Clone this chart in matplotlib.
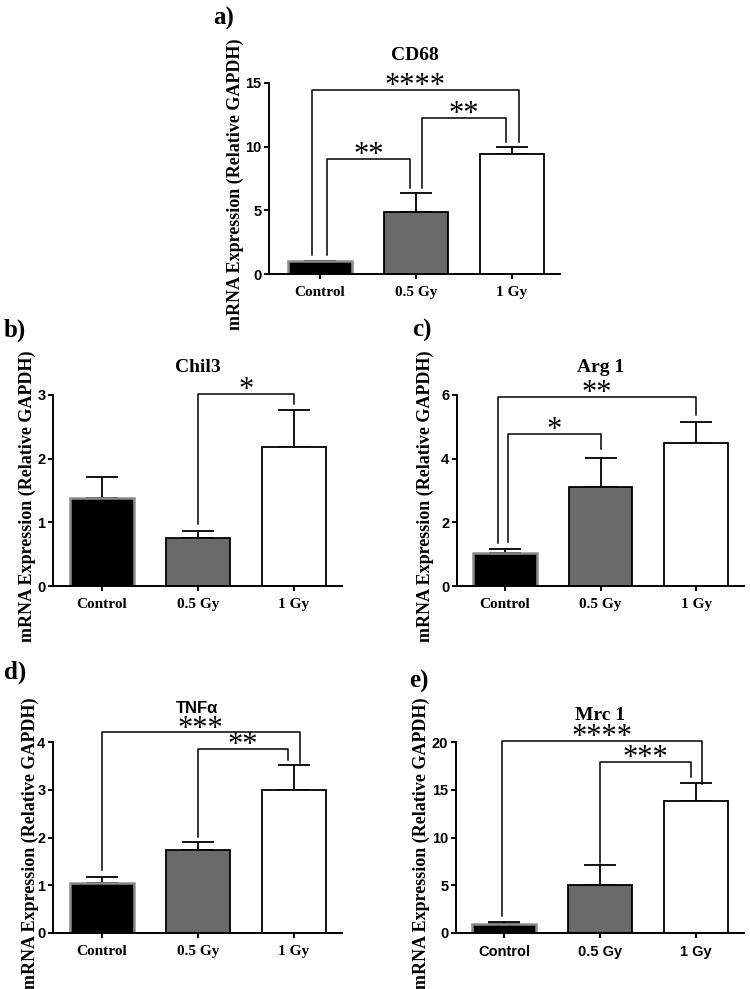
import matplotlib
matplotlib.use('Agg')
import matplotlib.pyplot as plt

groups = ['Control', '0.5 Gy', '1 Gy']

cd68_mean = [1.0, 4.87, 9.45]
cd68_err = [0.05, 1.49, 0.55]
chil3_mean = [1.38, 0.75, 2.19]
chil3_err = [0.33, 0.11, 0.58]
arg1_mean = [1.05, 3.10, 4.50]
arg1_err = [0.10, 0.91, 0.66]
tnfa_mean = [1.05, 1.745, 3.00]
tnfa_err = [0.12, 0.155, 0.51]
mrc1_mean = [0.94, 5.0, 13.85]
mrc1_err = [0.16, 2.13, 1.85]

# significance brackets: (i, j, top, left leg end, right leg end, dx left, dx right, stars)
cd68_sig = [(0, 1, 9.03, 1.5, 6.75, 0.07, -0.06, '**'),
            (1, 2, 12.25, 6.75, 10.4, 0.06, -0.06, '**'),
            (0, 2, 14.45, 1.5, 10.4, -0.08, 0.07, '****')]
chil3_sig = [(1, 2, 3.02, 0.97, 2.86, 0, 0, '*')]
arg1_sig = [(0, 1, 4.77, 1.39, 4.30, 0.03, 0, '*'),
            (0, 2, 5.93, 1.36, 5.37, -0.07, 0, '**')]
tnfa_sig = [(0, 2, 4.20, 1.31, 3.57, 0, 0.06, '***'),
            (1, 2, 3.86, 2.01, 3.63, 0, -0.06, '**')]
mrc1_sig = [(0, 2, 20.07, 1.74, 15.65, -0.02, 0.06, '****'),
            (1, 2, 17.9, 7.3, 16.35, 0, -0.05, '***')]

SERIF = 'Liberation Serif'
SANS = 'Liberation Sans'

W, H = 750, 989
fig = plt.figure(figsize=(7.5, 9.89), dpi=100)


def px_axes(left, right, top, bottom):
    return fig.add_axes([left / W, 1 - bottom / H, (right - left) / W, (bottom - top) / H])


def panel(ax, mean, err, sig, ymax, step, title, title_font, title_pad, xfont, xlim_left, ylab_x):
    x = range(len(groups))
    bars = ax.bar(x, mean, width=0.667, color=['black', '#6a6a6a', 'white'],
                  edgecolor=['#8c8c8c', 'black', 'black'], linewidth=1.3, zorder=2)
    bars[0].set_linewidth(1.8)
    ax.errorbar(x, mean, yerr=[[0, 0, 0], err], fmt='none', ecolor='black',
                elinewidth=1.3, capsize=11.5, capthick=1.3, zorder=1)
    ax.set_xlim(xlim_left, 2.5)
    ax.set_ylim(0, ymax)
    ax.set_yticks([i * step for i in range(int(round(ymax / step)) + 1)])
    ax.set_xticks(list(x))
    ax.set_xticklabels(groups, fontfamily=xfont, fontweight='bold', fontsize=11 if xfont == SERIF else 10.5)
    for lab in ax.get_yticklabels():
        lab.set_fontfamily(SANS)
        lab.set_fontweight('bold')
        lab.set_fontsize(10.5)
    for s in ['top', 'right']:
        ax.spines[s].set_visible(False)
    for s in ['left', 'bottom']:
        ax.spines[s].set_linewidth(1.4)
    ax.tick_params(axis='both', width=1.4, length=3.5)
    ax.tick_params(axis='x', pad=5)
    ax.tick_params(axis='y', pad=2)
    ax.set_title(title, fontfamily=title_font, fontweight='bold',
                 fontsize=14 if title_font == SERIF else 12, pad=title_pad)
    ax.set_ylabel('mRNA Expression (Relative GAPDH)', fontfamily=SERIF, fontweight='bold',
                  fontsize=13, va='center')
    ax.yaxis.set_label_coords(ylab_x, 0.47)
    for i, j, top, lb, rb, dl, dr, stars in sig:
        xl = i + dl
        xr = j + dr
        ax.plot([xl, xl, xr, xr], [lb, top, top, rb], color='black', lw=1.1,
                clip_on=False, zorder=3)
        ax.annotate(stars, xy=((xl + xr) / 2, top), xytext=(0, -3), textcoords='offset points',
                    ha='center', va='baseline', fontfamily=SERIF, fontsize=22,
                    annotation_clip=False)


ax_a = px_axes(269, 560, 83, 274)
panel(ax_a, cd68_mean, cd68_err, cd68_sig, 15, 5, 'CD68', SERIF, 16.5, SERIF, -0.53, -0.115)
ax_b = px_axes(53, 342, 395, 586)
panel(ax_b, chil3_mean, chil3_err, chil3_sig, 3, 1, 'Chil3', SERIF, 16.5, SERIF, -0.51, -0.09)
ax_c = px_axes(457, 744, 395, 586)
panel(ax_c, arg1_mean, arg1_err, arg1_sig, 6, 2, 'Arg 1', SERIF, 16.5, SERIF, -0.5, -0.11)
ax_d = px_axes(53, 342, 742, 933)
panel(ax_d, tnfa_mean, tnfa_err, tnfa_sig, 4, 1, 'TNF\u03b1', SANS, 21, SERIF, -0.51, -0.08)
ax_e = px_axes(456, 744, 742, 933)
panel(ax_e, mrc1_mean, mrc1_err, mrc1_sig, 20, 5, 'Mrc 1', SERIF, 16, SANS, -0.5, -0.12)

for lab, (lx, ly) in zip(['a)', 'b)', 'c)', 'd)', 'e)'],
                         [(213, 25), (4, 337), (412, 337), (4, 679), (409, 688)]):
    fig.text(lx / W, 1 - ly / H, lab, fontfamily=SERIF, fontweight='bold', fontsize=18,
             ha='left', va='baseline')

fig.savefig('out.png', dpi=100)
